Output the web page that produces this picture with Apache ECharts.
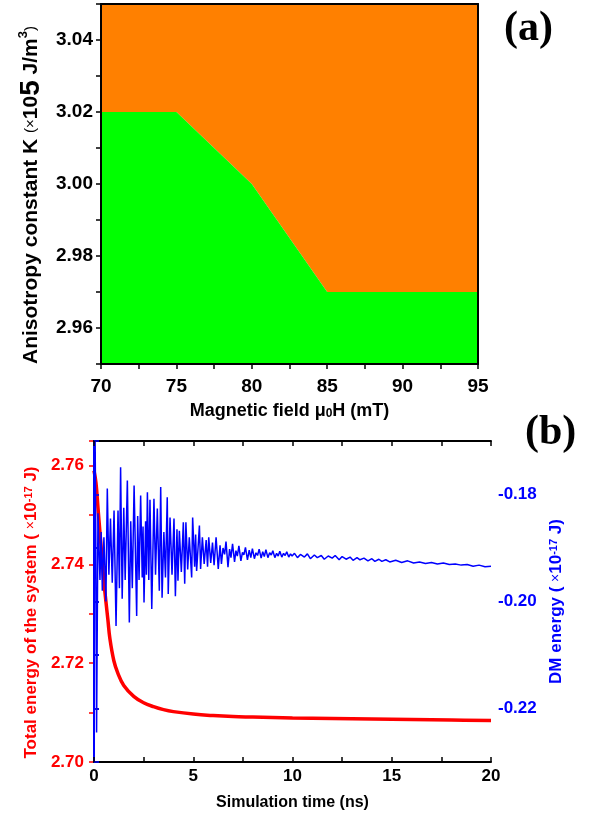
<!DOCTYPE html>
<html>
<head>
<meta charset="utf-8">
<script src="https://cdn.jsdelivr.net/npm/echarts@6/dist/echarts.min.js"></script>
<style>
  html, body { margin: 0; padding: 0; background: #fff; }
  #chart { width: 591px; height: 814px; }
</style>
</head>
<body>
<div id="chart"></div>
<script>
// (a) phase boundary between skyrmion / no skyrmion
const fieldH = [70, 75, 80, 85, 95];
const boundaryK = [3.02, 3.02, 3.00, 2.97, 2.97];

// (b) total energy (left axis, x1e-17 J)
const timeTotal = [0, 0.1, 0.2, 0.3, 0.4, 0.5, 0.6, 0.7, 0.8, 1.0, 1.2, 1.5, 2.0, 2.5, 3.0, 3.5, 4.0, 5.0, 6.0, 7.0, 8.0, 10, 12, 14, 16, 18, 20];
const totalEnergy = [2.7590, 2.7565, 2.7515, 2.7465, 2.7415, 2.7365, 2.7325, 2.7288, 2.7250, 2.7205, 2.7180, 2.7155, 2.7133, 2.7120, 2.7112, 2.7106, 2.7102, 2.7097, 2.7094, 2.7092, 2.7091, 2.7089, 2.7088, 2.7087, 2.7086, 2.7085, 2.7084];

// (b) DM energy (right axis, x1e-17 J)
const timeDM = [
  0.00, 0.04, 0.09, 0.13, 0.20, 0.30, 0.36, 0.42, 0.50, 0.60, 0.67, 0.75, 0.83, 0.92, 1.01, 1.11, 1.21, 1.28, 1.34, 1.42,
  1.50, 1.57, 1.68, 1.78, 1.85, 1.93, 2.02, 2.15, 2.20, 2.27, 2.35, 2.43, 2.47, 2.52, 2.60, 2.64, 2.69, 2.76, 2.82, 2.91,
  3.02, 3.10, 3.19, 3.29, 3.36, 3.43, 3.52, 3.60, 3.69, 3.74, 3.83, 3.93, 4.03, 4.10, 4.18, 4.23, 4.30, 4.40, 4.50, 4.57,
  4.63, 4.72, 4.80, 4.92, 4.97, 5.07, 5.12, 5.17, 5.31, 5.37, 5.46, 5.55, 5.65, 5.72, 5.78, 5.88, 5.97, 6.05, 6.15, 6.26,
  6.35, 6.42, 6.50, 6.58, 6.65, 6.75, 6.83, 6.90, 6.98, 7.08, 7.15, 7.22, 7.30, 7.40, 7.48, 7.55, 7.63, 7.73, 7.82, 7.90,
  7.98, 8.08, 8.16, 8.24, 8.32, 8.42, 8.50, 8.58, 8.66, 8.76, 8.85, 8.93, 9.01, 9.11, 9.20, 9.28, 9.36, 9.46, 9.55, 9.63,
  9.71, 9.81, 9.90, 9.98,
  10.1, 10.25, 10.4, 10.6, 10.75, 10.9, 11.1, 11.25, 11.45, 11.6, 11.8, 12.0, 12.15, 12.35, 12.5, 12.7, 12.9, 13.05, 13.25, 13.4,
  13.6, 13.8, 14.0, 14.15, 14.35, 14.5, 14.7, 14.9, 15.2, 15.5, 15.8, 16.1, 16.4, 16.7, 17.0, 17.3, 17.6, 17.9, 18.2, 18.5,
  18.8, 19.1, 19.4, 19.7, 20.0
];
const dmEnergy = [
  -0.2400, -0.1600, -0.1880, -0.2245, -0.1835, -0.1960, -0.1870, -0.1980, -0.1880, -0.2000, -0.1789, -0.1950, -0.1845, -0.1965, -0.1830, -0.2046, -0.1830, -0.1975, -0.1749, -0.1995,
  -0.1825, -0.1960, -0.1774, -0.2039, -0.1850, -0.1975, -0.1783, -0.2027, -0.1840, -0.1960, -0.1802, -0.1955, -0.1860, -0.2002, -0.1850, -0.1950, -0.1796, -0.1960, -0.1810, -0.2014,
  -0.1808, -0.1950, -0.1826, -0.1980, -0.1786, -0.1993, -0.1870, -0.1955, -0.1805, -0.1986, -0.1843, -0.1950, -0.1845, -0.1990, -0.1865, -0.1961, -0.1868, -0.1945, -0.1852, -0.1967,
  -0.1852, -0.1940, -0.1880, -0.1955, -0.1843, -0.1935, -0.1875, -0.1943, -0.1858, -0.1939, -0.1880, -0.1930, -0.1885, -0.1935, -0.1880, -0.1928, -0.1890, -0.1932, -0.1880, -0.1939,
  -0.1895, -0.1930, -0.1900, -0.1912, -0.1888, -0.1936, -0.1902, -0.1918, -0.1892, -0.1926, -0.1905, -0.1915, -0.1896, -0.1924, -0.1908, -0.1913, -0.1899, -0.1922, -0.1904, -0.1918,
  -0.1901, -0.1920, -0.1909, -0.1914, -0.1902, -0.1919, -0.1907, -0.1916, -0.1903, -0.1918, -0.1909, -0.1913, -0.1905, -0.1918, -0.1910, -0.1915, -0.1906, -0.1917, -0.1910, -0.1914,
  -0.1907, -0.1917, -0.1911, -0.1915,
  -0.1910, -0.1918, -0.1912, -0.1917, -0.1911, -0.1920, -0.1913, -0.1918, -0.1914, -0.1921, -0.1915, -0.1919, -0.1914, -0.1922, -0.1916, -0.1921, -0.1917, -0.1923, -0.1918, -0.1922,
  -0.1919, -0.1924, -0.1920, -0.1925, -0.1921, -0.1925, -0.1922, -0.1926, -0.1923, -0.1927, -0.1924, -0.1928, -0.1926, -0.1929, -0.1927, -0.1930, -0.1928, -0.1931, -0.1930, -0.1932,
  -0.1931, -0.1934, -0.1932, -0.1935, -0.1934
];

const FONT = 'Arial, "Liberation Sans", sans-serif';
const SERIF = '"Liberation Serif", "Times New Roman", serif';

const chart = echarts.init(document.getElementById('chart'), null, { renderer: 'canvas' });

// show only the even hundredths (2.96, 2.98 ...)
function evenHundredth(v) {
  const h = Math.round(v * 100);
  if (Math.abs(v * 100 - h) > 1e-6 || h % 2 !== 0) return '';
  return v.toFixed(2);
}
function everyFive(v) {
  return Math.abs(v % 5) < 1e-9 ? String(v) : '';
}

const blackLine = { show: true, lineStyle: { color: '#000', width: 2 } };

const option = {
  animation: false,
  grid: [
    { left: 101, top: 4, width: 377, height: 360 },
    { left: 94, top: 441, width: 397, height: 321 }
  ],
  xAxis: [
    { // (a) bottom
      gridIndex: 0, type: 'value', min: 70, max: 95, interval: 2.5, z: 10,
      axisLine: blackLine,
      axisTick: { show: true, inside: false, length: 5, lineStyle: { color: '#000', width: 1.5 } },
      axisLabel: { formatter: everyFive, color: '#000', fontSize: 19, fontWeight: 'bold', fontFamily: FONT, margin: 13 },
      splitLine: { show: false },
      name: '{a|Magnetic field \u03bc}{sub|0}{a|H (mT)}',
      nameLocation: 'middle', nameGap: 38,
      nameTextStyle: {
        rich: {
          a: { fontSize: 18, fontWeight: 'bold', fontFamily: FONT, color: '#000' },
          sub: { fontSize: 12, fontWeight: 'bold', fontFamily: FONT, color: '#000', verticalAlign: 'bottom', padding: [6, 0, 0, 0] }
        }
      }
    },
    { // (a) top frame
      gridIndex: 0, type: 'value', min: 70, max: 95, position: 'top', z: 10,
      axisLine: blackLine, axisTick: { show: false }, axisLabel: { show: false }, splitLine: { show: false }
    },
    { // (b) bottom
      gridIndex: 1, type: 'value', min: 0, max: 20, interval: 2.5, z: 10,
      axisLine: blackLine,
      axisTick: { show: true, inside: true, length: 5, lineStyle: { color: '#000', width: 1.5 } },
      axisLabel: { formatter: everyFive, color: '#000', fontSize: 17, fontWeight: 'bold', fontFamily: FONT, margin: 6 },
      splitLine: { show: false },
      name: 'Simulation time (ns)', nameLocation: 'middle', nameGap: 33,
      nameTextStyle: { fontSize: 16, fontWeight: 'bold', fontFamily: FONT, color: '#000' }
    },
    { // (b) top frame, mirrored ticks
      gridIndex: 1, type: 'value', min: 0, max: 20, interval: 2.5, position: 'top', z: 10,
      axisLine: blackLine,
      axisTick: { show: true, inside: true, length: 5, lineStyle: { color: '#000', width: 1.5 } },
      axisLabel: { show: false }, splitLine: { show: false }
    }
  ],
  yAxis: [
    { // (a) left
      gridIndex: 0, type: 'value', min: 2.95, max: 3.05, interval: 0.01, z: 10,
      axisLine: blackLine,
      axisTick: { show: true, inside: false, length: 5, lineStyle: { color: '#000', width: 1.5 } },
      axisLabel: { formatter: evenHundredth, color: '#000', fontSize: 19, fontWeight: 'bold', fontFamily: FONT, margin: 8 },
      splitLine: { show: false },
      name: '{a|Anisotropy constant K }{s|(\u00d7}{a|10}{b|5}{a| J/m}{p|3}{s|)}',
      nameLocation: 'middle', nameGap: 54, nameRotate: 90,
      nameTextStyle: {
        padding: [0, 22, 0, 0],
        rich: {
          a: { fontSize: 21, fontWeight: 'bold', fontFamily: FONT, color: '#000' },
          s: { fontSize: 15, fontFamily: FONT, color: '#000' },
          b: { fontSize: 28, fontWeight: 'bold', fontFamily: FONT, color: '#000' },
          p: { fontSize: 13, fontWeight: 'bold', fontFamily: FONT, color: '#000', verticalAlign: 'top' }
        }
      }
    },
    { // (a) right frame
      gridIndex: 0, type: 'value', min: 2.95, max: 3.05, position: 'right', z: 10,
      axisLine: blackLine, axisTick: { show: false }, axisLabel: { show: false }, splitLine: { show: false }
    },
    { // (b) left, total energy
      gridIndex: 1, type: 'value', min: 2.70, max: 2.765, interval: 0.01,
      axisLine: { show: true, lineStyle: { color: '#ff0000', width: 2 } },
      axisTick: { show: true, inside: false, length: 5, lineStyle: { color: '#ff0000', width: 1.5 } },
      axisLabel: { formatter: evenHundredth, color: '#ff0000', fontSize: 17, fontWeight: 'bold', fontFamily: FONT, margin: 10 },
      splitLine: { show: false },
      name: '{a|Total energy of the system ( }{s|\u00d7}{a|10}{p|-17}{a| J)}',
      nameLocation: 'middle', nameGap: 48, nameRotate: 90,
      nameTextStyle: {
        padding: [0, 22, 0, 0],
        rich: {
          a: { fontSize: 17, fontWeight: 'bold', fontFamily: FONT, color: '#ff0000' },
          s: { fontSize: 14, fontFamily: FONT, color: '#ff0000' },
          p: { fontSize: 11, fontWeight: 'bold', fontFamily: FONT, color: '#ff0000', verticalAlign: 'top' }
        }
      }
    },
    { // (b) right, DM energy
      gridIndex: 1, type: 'value', min: -0.23, max: -0.17, interval: 0.01, position: 'right', z: 10,
      axisLine: { show: true, lineStyle: { color: '#0000ff', width: 2 } },
      axisTick: { show: true, inside: false, length: 5, lineStyle: { color: '#0000ff', width: 1.5 } },
      axisLabel: { formatter: evenHundredth, color: '#0000ff', fontSize: 17, fontWeight: 'bold', fontFamily: FONT, margin: 7 },
      splitLine: { show: false },
      name: '{a|DM energy ( }{s|\u00d7}{a|10}{p|-17}{a| J)}',
      nameLocation: 'middle', nameGap: 57, nameRotate: 90,
      nameTextStyle: {
        rich: {
          a: { fontSize: 17, fontWeight: 'bold', fontFamily: FONT, color: '#0000ff' },
          s: { fontSize: 14, fontFamily: FONT, color: '#0000ff' },
          p: { fontSize: 11, fontWeight: 'bold', fontFamily: FONT, color: '#0000ff', verticalAlign: 'top' }
        }
      }
    },
    { // (b) mirrored right-axis ticks on the left side
      gridIndex: 1, type: 'value', min: -0.23, max: -0.17, interval: 0.01, position: 'left',
      axisLine: { show: false },
      axisTick: { show: true, inside: true, length: 5, lineStyle: { color: '#000', width: 1.5 } },
      axisLabel: { show: false }, splitLine: { show: false }
    }
  ],
  series: [
    {
      name: 'No skyrmion', type: 'line', xAxisIndex: 0, yAxisIndex: 0,
      data: fieldH.map((h, i) => [h, boundaryK[i]]),
      symbol: 'none', lineStyle: { width: 0 },
      areaStyle: { color: '#ff8000', opacity: 1, origin: 'end' }
    },
    {
      name: 'Skyrmion', type: 'line', xAxisIndex: 0, yAxisIndex: 0,
      data: fieldH.map((h, i) => [h, boundaryK[i]]),
      symbol: 'none', lineStyle: { width: 0 },
      areaStyle: { color: '#00ff00', opacity: 1, origin: 'start' }
    },
    {
      name: 'Total energy', type: 'line', xAxisIndex: 2, yAxisIndex: 2, z: 3,
      data: timeTotal.map((t, i) => [t, totalEnergy[i]]),
      symbol: 'none', smooth: 0.4,
      lineStyle: { color: '#ff0000', width: 3.5 }
    },
    {
      name: 'DM energy', type: 'line', xAxisIndex: 2, yAxisIndex: 3, z: 4,
      data: timeDM.map((t, i) => [t, dmEnergy[i]]),
      symbol: 'none', clip: true,
      lineStyle: { color: '#0000ff', width: 1.5 }
    }
  ],
  graphic: [
    { type: 'text', left: 273, top: 38, style: { text: 'No skyrmion', font: 'bold 32px ' + SERIF, fill: '#000' } },
    { type: 'text', left: 123, top: 300, style: { text: 'Skyrmion', font: 'bold 32px ' + SERIF, fill: '#000' } },
    { type: 'text', left: 504, top: 8, style: { text: '(a)', font: 'bold 42px ' + SERIF, fill: '#000' } },
    { type: 'text', left: 525, top: 412, style: { text: '(b)', font: 'bold 42px ' + SERIF, fill: '#000' } }
  ]
};

chart.setOption(option);
</script>
</body>
</html>
